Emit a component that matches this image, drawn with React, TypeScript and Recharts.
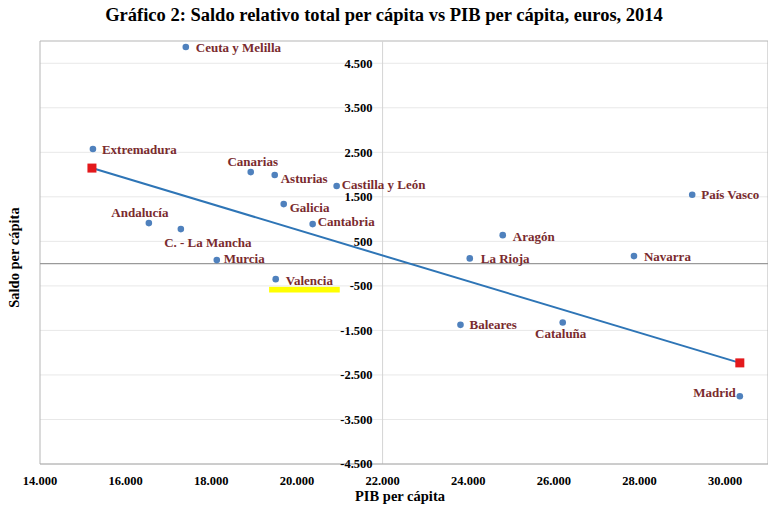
import React from 'react';
import {
  ScatterChart,
  Scatter,
  XAxis,
  YAxis,
  ReferenceLine,
  ReferenceArea,
} from 'recharts';

const regions = [
  'Ceuta y Melilla', 'Extremadura', 'Canarias', 'Asturias', 'Castilla y León',
  'Galicia', 'Cantabria', 'Andalucía', 'C. - La Mancha', 'Murcia', 'Valencia',
  'País Vasco', 'Aragón', 'La Rioja', 'Navarra', 'Baleares', 'Cataluña', 'Madrid',
];
const pibValues = [
  17405, 15236, 18921, 19481, 20927, 19691, 20367, 16542, 17289, 18128, 19504,
  29230, 24806, 24036, 27870, 23819, 26206, 30342,
];
const saldoValues = [
  4865, 2573, 2056, 1989, 1742, 1337, 888, 910, 775, 79, -348,
  1546, 640, 117, 169, -1375, -1321, -2978,
];
const trendPib = [15213, 30342];
const trendSaldo = [2146, -2229];
const xTicks = [14000, 16000, 18000, 20000, 22000, 24000, 26000, 28000, 30000];
const yTicks = [-4500, -3500, -2500, -1500, -500, 500, 1500, 2500, 3500, 4500];

const FONT = '"Liberation Serif", "Times New Roman", serif';
const LABEL_COLOR = '#7a2b2e';

// where each region's name sits relative to its dot
const LABEL_POS: Record<string, { dx: number; dy: number; anchor: 'start' | 'middle' | 'end' }> = {
  'Ceuta y Melilla': { dx: 10, dy: 0, anchor: 'start' },
  'Extremadura': { dx: 9, dy: 0, anchor: 'start' },
  'Canarias': { dx: 2, dy: -11, anchor: 'middle' },
  'Asturias': { dx: 6, dy: 3, anchor: 'start' },
  'Castilla y León': { dx: 5, dy: -2, anchor: 'start' },
  'Galicia': { dx: 6, dy: 3, anchor: 'start' },
  'Cantabria': { dx: 5, dy: -3, anchor: 'start' },
  'Andalucía': { dx: -9, dy: -11, anchor: 'middle' },
  'C. - La Mancha': { dx: 27, dy: 13, anchor: 'middle' },
  'Murcia': { dx: 7, dy: -2, anchor: 'start' },
  'Valencia': { dx: 10, dy: 1, anchor: 'start' },
  'País Vasco': { dx: 9, dy: 0, anchor: 'start' },
  'Aragón': { dx: 10, dy: 1, anchor: 'start' },
  'La Rioja': { dx: 11, dy: 0, anchor: 'start' },
  'Navarra': { dx: 10, dy: 0, anchor: 'start' },
  'Baleares': { dx: 9, dy: 0, anchor: 'start' },
  'Cataluña': { dx: -2, dy: 11, anchor: 'middle' },
  'Madrid': { dx: -4, dy: -4, anchor: 'end' },
};

const fmt = (n: number) => {
  const s = Math.abs(n).toString().replace(/\B(?=(\d{3})+(?!\d))/g, '.');
  return (n < 0 ? '-' : '') + s;
};

const pointData = regions.map((name, i) => ({ name, x: pibValues[i], y: saldoValues[i] }));
const trendData = trendPib.map((x, i) => ({ x, y: trendSaldo[i] }));
const yTickData = yTicks.map((v) => ({ x: 22000, y: v }));

const RegionDot = (props: any) => {
  const { cx, cy, payload } = props;
  const p = LABEL_POS[payload.name] || { dx: 8, dy: 0, anchor: 'start' };
  return (
    <g>
      <circle cx={cx} cy={cy} r={3.3} fill="#4f81bd" />
      <text
        x={cx + p.dx}
        y={cy + p.dy}
        dy="0.35em"
        textAnchor={p.anchor}
        fill={LABEL_COLOR}
        fontSize={13}
        fontWeight="bold"
        fontFamily={FONT}
      >
        {payload.name}
      </text>
    </g>
  );
};

const RedSquare = (props: any) => {
  const { cx, cy } = props;
  return <rect x={cx - 4.5} y={cy - 4.5} width={9} height={9} fill="#e3191c" />;
};

const YTickLabel = (props: any) => {
  const { cx, cy, payload } = props;
  return (
    <text
      x={cx - 10}
      y={cy}
      dy="0.35em"
      textAnchor="end"
      fill="#000"
      fontSize={12.5}
      fontWeight="bold"
      fontFamily={FONT}
    >
      {fmt(payload.y)}
    </text>
  );
};

export default function App() {
  return (
    <div style={{ position: 'absolute', left: 0, top: 0, width: 768, height: 518, background: '#fff', fontFamily: FONT }}>
      <div
        style={{
          position: 'absolute', left: 0, top: 5, width: 768, textAlign: 'center',
          fontSize: 18.5, fontWeight: 'bold', color: '#000',
        }}
      >
        Gráfico 2: Saldo relativo total per cápita vs PIB per cápita, euros, 2014
      </div>
      <div
        style={{
          position: 'absolute', left: 340, top: 488, width: 120, textAlign: 'center',
          fontSize: 14.5, fontWeight: 'bold', whiteSpace: 'nowrap',
        }}
      >
        PIB per cápita
      </div>
      <div style={{ position: 'absolute', left: 14, top: 258, width: 0, height: 0 }}>
        <div
          style={{
            position: 'absolute', left: -60, top: -9, width: 120, textAlign: 'center',
            transform: 'rotate(-90deg)', fontSize: 14.5, fontWeight: 'bold', whiteSpace: 'nowrap',
          }}
        >
          Saldo per cápita
        </div>
      </div>
      <ScatterChart
        width={768}
        height={518}
        margin={{ top: 41, right: 0, bottom: 24, left: 40 }}
        style={{ position: 'absolute', left: 0, top: 0 }}
      >
        <XAxis
          dataKey="x"
          type="number"
          domain={[14000, 31000]}
          ticks={xTicks}
          tickFormatter={fmt}
          height={30}
          axisLine={{ stroke: '#a6a6a6' }}
          tickLine={false}
          tick={{ fill: '#000', fontSize: 12.5, fontWeight: 'bold', fontFamily: FONT }}
          tickMargin={6}
        />
        <YAxis dataKey="y" type="number" domain={[-4500, 5000]} hide />
        {yTicks.map((v) => (
          <ReferenceLine key={v} y={v} stroke="#e8e8e8" strokeWidth={1} />
        ))}
        <ReferenceLine y={5000} stroke="#b5b5b5" />
        <ReferenceLine x={14000} stroke="#b5b5b5" />
        <ReferenceLine x={31000} stroke="#b5b5b5" />
        <ReferenceLine x={22000} stroke="#d4d4d4" />
        <ReferenceLine y={0} stroke="#9a9a9a" strokeWidth={1.2} />
        <ReferenceArea x1={19350} x2={21000} y1={-520} y2={-650} fill="#ffff00" fillOpacity={1} stroke="none" />
        <Scatter data={yTickData} shape={YTickLabel} isAnimationActive={false} />
        <Scatter
          data={trendData}
          line={{ stroke: '#2e75b6', strokeWidth: 2 }}
          lineType="joint"
          shape={RedSquare}
          isAnimationActive={false}
        />
        <Scatter data={pointData} shape={RegionDot} isAnimationActive={false} />
      </ScatterChart>
    </div>
  );
}
